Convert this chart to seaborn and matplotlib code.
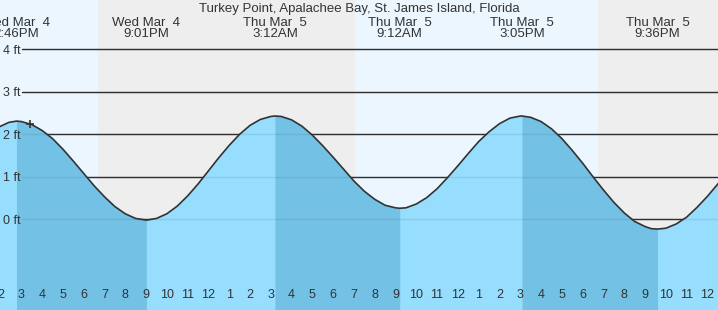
import matplotlib
matplotlib.use("Agg")
import matplotlib.pyplot as plt
import numpy as np
import pandas as pd
import seaborn as sns

# ---------------- data (hours counted from Wed Mar 4 00:00) ----------------
title = "Turkey Point, Apalachee Bay, St. James Island, Florida"

hours = [13.9, 14.0, 14.4, 14.767, 15, 15.5, 16, 16.5, 17, 17.5, 18, 18.5,
         19, 19.5, 20, 20.5, 21.017, 21.5, 22, 22.5, 23, 23.5, 24, 24.5,
         25, 25.5, 26, 26.5, 27, 27.2, 27.5, 28, 28.5, 29, 29.5, 30, 30.5,
         31, 31.5, 32, 32.5, 33, 33.2, 33.5, 34, 34.5, 35, 35.5, 36, 36.5,
         37, 37.5, 38, 38.5, 39, 39.083, 39.5, 40, 40.5, 41, 41.5, 42, 42.5,
         43, 43.5, 44, 44.5, 45, 45.3, 45.6, 46, 46.5, 47, 47.5, 48, 48.5, 49]
heights_ft = [2.16, 2.19, 2.28, 2.31, 2.30, 2.23, 2.09, 1.90, 1.65, 1.37, 1.08, 0.79,
              0.53, 0.30, 0.13, 0.02, -0.02, 0.02, 0.13, 0.31, 0.55, 0.83, 1.14, 1.45,
              1.74, 2.00, 2.21, 2.35, 2.42, 2.43, 2.42, 2.34, 2.19, 1.98, 1.73, 1.46, 1.18,
              0.90, 0.66, 0.47, 0.33, 0.27, 0.26, 0.27, 0.36, 0.51, 0.72, 0.98, 1.26, 1.55,
              1.83, 2.06, 2.25, 2.38, 2.43, 2.43, 2.40, 2.30, 2.13, 1.90, 1.62, 1.32, 1.00,
              0.69, 0.40, 0.15, -0.05, -0.17, -0.22, -0.23, -0.21, -0.11, 0.05, 0.28, 0.54, 0.83, 1.13]

extreme_hours = [14.767, 21.017, 27.2, 33.2, 39.083, 45.6]
extreme_kinds = ["high", "low", "high", "low", "high", "low"]
extreme_labels = ["Wed Mar  4\n2:46PM", "Wed Mar  4\n9:01PM", "Thu Mar  5\n3:12AM",
                  "Thu Mar  5\n9:12AM", "Thu Mar  5\n3:05PM", "Thu Mar  5\n9:36PM"]

night_start = [18.67, 42.72]
night_end = [31.03, 49.0]

level_ft = [0, 1, 2, 3, 4]
level_labels = ["0 ft", "1 ft", "2 ft", "3 ft", "4 ft"]

tick_hours = list(range(14, 49))
tick_labels = ["2", "3", "4", "5", "6", "7", "8", "9", "10", "11", "12",
               "1", "2", "3", "4", "5", "6", "7", "8", "9", "10", "11", "12",
               "1", "2", "3", "4", "5", "6", "7", "8", "9", "10", "11", "12"]

now_hour = 15.42
now_height = 2.25

# ---------------- styling ----------------
DAY = "#EBF6FE"
NIGHT = "#EEEEEE"
LIGHT = "#97DDFE"
DARK = "#73C2E6"
INK = "#333333"
X0, X1 = 13.975, 48.51
Y0, Y1 = -2.134, 5.16

sns.set_style("white")
plt.rcParams["font.family"] = ["Liberation Sans", "DejaVu Sans"]

fig = plt.figure(figsize=(7.18, 3.10), dpi=100)
ax = fig.add_axes([0, 0, 1, 1])
ax.set_facecolor(DAY)
ax.set_xlim(X0, X1)
ax.set_ylim(Y0, Y1)
for s in ax.spines.values():
    s.set_visible(False)

for a, b in zip(night_start, night_end):
    ax.axvspan(a, b, color=NIGHT, lw=0, zorder=0)

for lv in level_ft:
    ax.axhline(lv, xmin=22 / 718, xmax=1, color=INK, lw=1.0, zorder=1)

df = pd.DataFrame({"hour": hours, "height": heights_ft})
ax.fill_between(df["hour"], df["height"], Y0, color=LIGHT, lw=0, zorder=2)
for i, kind in enumerate(extreme_kinds):
    if kind == "high" and i + 1 < len(extreme_hours):
        seg = df[(df["hour"] >= extreme_hours[i]) & (df["hour"] <= extreme_hours[i + 1])]
        ax.fill_between(seg["hour"], seg["height"], Y0, color=DARK, lw=0, zorder=2.1)

for lv in level_ft:
    ax.axhline(lv, xmin=22 / 718, xmax=1, color="black", alpha=0.08, lw=1.0, zorder=2.2)

sns.lineplot(data=df, x="hour", y="height", ax=ax, color=INK, lw=1.2,
             zorder=3, legend=False)
ax.plot([now_hour], [now_height], marker="+", ms=6, mew=1.2, color=INK, zorder=4)

ax.set_xlabel("")
ax.set_ylabel("")
ax.set_yticks([])

ax.set_axisbelow(False)
ax.set_xticks(tick_hours, tick_labels)
ax.tick_params(axis="x", direction="in", length=8, width=1, color=INK,
               pad=-15, labelsize=9, labelcolor=INK)
for t, h in zip(ax.xaxis.get_major_ticks(), tick_hours):
    if h % 24 == 0:
        t.tick1line.set_markeredgewidth(3)

tr = ax.get_yaxis_transform()
for lv, lab in zip(level_ft, level_labels):
    ax.text(3 / 718, lv - 0.035, lab, transform=tr,
            ha="left", va="center", fontsize=9, color=INK, zorder=5)

ftr = ax.get_xaxis_transform()
for h, lab in zip(extreme_hours, extreme_labels):
    l1, l2 = lab.split("\n")
    ax.text(h, 1 - 25.5 / 310, l1, transform=ftr, ha="center", va="baseline",
            fontsize=9.5, color=INK, zorder=5)
    ax.text(h, 1 - 37 / 310, l2, transform=ftr, ha="center", va="baseline",
            fontsize=9.5, color=INK, zorder=5)

fig.text(0.5, 1 - 12 / 310, title, ha="center", va="baseline",
         fontsize=9.5, color=INK)

fig.savefig("out.png", dpi=100)
